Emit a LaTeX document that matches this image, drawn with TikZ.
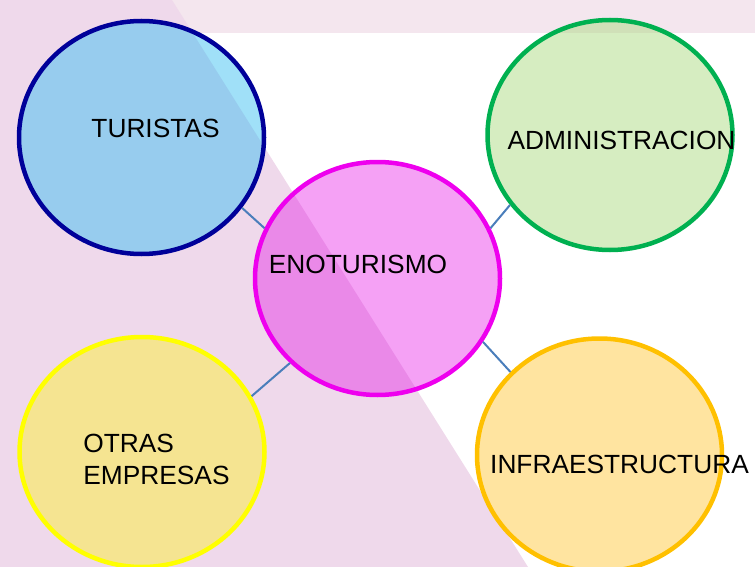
\documentclass[tikz,border=0pt]{standalone}
\usepackage{fontspec}
\setmainfont{Liberation Sans}
\usetikzlibrary{positioning,shapes.geometric}
\definecolor{leftpink}{RGB}{239,217,235}
\definecolor{bandpink}{RGB}{244,230,238}
\definecolor{turfill}{RGB}{65,193,241}
\definecolor{turline}{RGB}{0,0,153}
\definecolor{admfill}{RGB}{173,219,131}
\definecolor{admline}{RGB}{0,176,80}
\definecolor{enofill}{RGB}{228,0,228}
\definecolor{enoline}{RGB}{238,0,238}
\definecolor{otrfill}{RGB}{251,239,57}
\definecolor{otrline}{RGB}{255,255,0}
\definecolor{infill}{RGB}{255,201,65}
\definecolor{inline}{RGB}{255,192,0}
\definecolor{linkblue}{RGB}{74,126,187}
\newcommand{\bubblefont}{\fontsize{26.3}{32}\selectfont}

\begin{document}
\begin{tikzpicture}[x=1pt,y=-1pt,on grid,
                    line join=round]
\tikzstyle{bubble}=[ellipse,line width=4.5pt,inner sep=0pt,
                    minimum width=245pt,minimum height=233pt]
  	\tikzstyle{every label}=[font=\bubblefont,text=black,fill opacity=1,text opacity=1]
\tikzstyle{link}=[draw=linkblue,line width=2pt]

\useasboundingbox (0,0) rectangle (755,567);
\clip (0,0) rectangle (755,567);
\fill[bandpink] (0,0) rectangle (755,33);
\fill[leftpink] (0,0) -- (172,0) -- (528,567) -- (0,567) -- cycle;

\node [bubble,draw=enoline,fill=enofill,fill opacity=0.37,
       label={[xshift=-19.5pt,yshift=14.5pt]center:ENOTURISMO}] (eno) at (377.5,278.5) {};
\node [bubble,draw=turline,fill=turfill,fill opacity=0.5,
       label={[xshift=14pt,yshift=9.5pt]center:TURISTAS}]
      [above left=141pt and 236pt of eno] (tur) {};
\node [bubble,draw=admline,fill=admfill,fill opacity=0.5,minimum height=230pt,
       label={[xshift=11.5pt,yshift=-5.5pt]center:ADMINISTRACION}]
      [above right=143.5pt and 232.5pt of eno] (adm) {};
\node [bubble,draw=otrline,fill=otrfill,fill opacity=0.5,minimum height=230pt,
       label={[align=left,xshift=14.5pt,yshift=-7pt]center:{OTRAS\\EMPRESAS}}]
      [below left=173.5pt and 235.5pt of eno] (otr) {};
\node [bubble,draw=inline,fill=infill,fill opacity=0.5,
       label={[xshift=20pt,yshift=-9pt]center:INFRAESTRUCTURA}]
      [below right=176.5pt and 222pt of eno] (inf) {};

\path[link]
	   (tur.-35) edge (eno.156)
	   (eno.24) edge (adm.-145)
	   (eno.-31) edge (inf.137)
      (eno.-136) edge (otr.27);

	\end{tikzpicture}
\end{document}
